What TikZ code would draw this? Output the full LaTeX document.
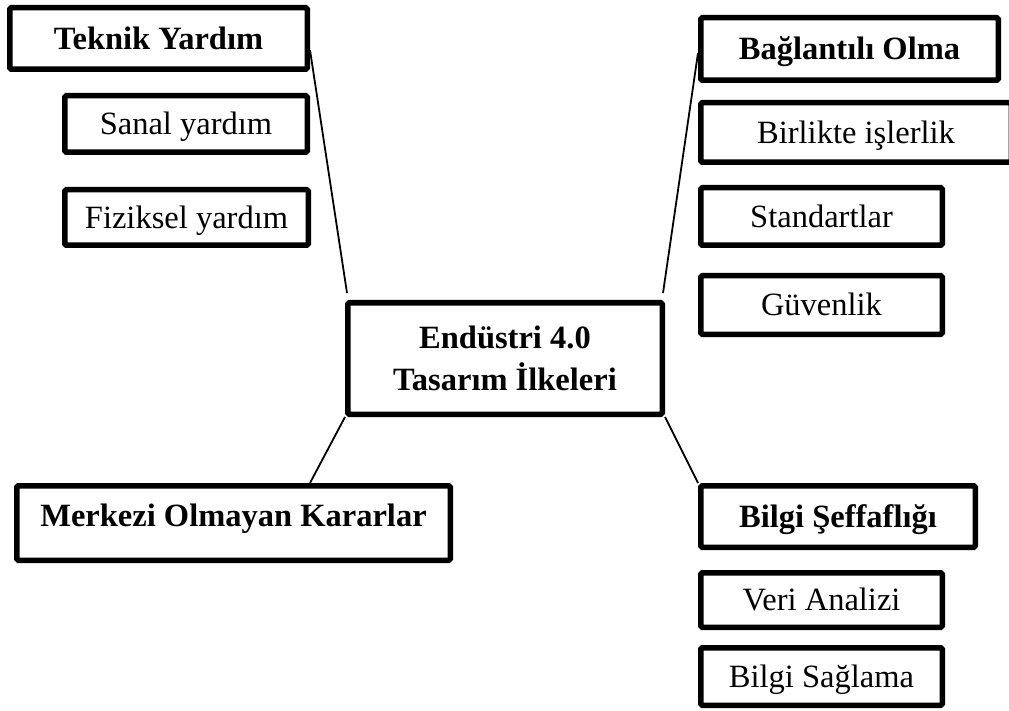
\documentclass[tikz,border=0pt]{standalone}
\usepackage{fontspec}
\setmainfont{Liberation Serif}
\usetikzlibrary{calc}
\tikzset{
  box/.style={draw, line width=5.5pt, rounded corners=1.5pt, inner sep=0pt,
    font=\fontsize{32.5}{41}\selectfont},
  one/.style={box, text height=21.5pt, text depth=0pt},
  head/.style={one, font=\fontsize{32.5}{41}\selectfont\bfseries},
  link/.style={draw, line width=1.8pt}
}
\begin{document}
\begin{tikzpicture}[x=1pt,y=-1pt]
\useasboundingbox (0,0) rectangle (1009,711);
% left top group
\node[head, minimum width=297.5pt, minimum height=61.5pt] (teknik) at (158.5,38.5) {Teknik Yardım};
\node[one, minimum width=242.5pt, minimum height=56.5pt] (sanal) at (186,124) {Sanal yardım};
\node[one, minimum width=243.5pt, minimum height=55.5pt] (fiziksel) at (186.5,217.5) {Fiziksel yardım};
% right top group
\node[head, minimum width=297.5pt, minimum height=62.5pt] (baglanti) at (849.5,49) {Bağlantılı Olma};
\node[one, minimum width=310.5pt, minimum height=59.5pt] (birlikte) at (856,132.5) {Birlikte işlerlik};
\node[one, minimum width=241.5pt, minimum height=57.5pt] (standart) at (821.5,216.5) {Standartlar};
\node[one, minimum width=241.5pt, minimum height=58.5pt] (guvenlik) at (821.5,305) {Güvenlik};
% centre
\node[box, font=\fontsize{32.5}{42}\selectfont\bfseries, align=center,
  minimum width=314.5pt, minimum height=111.5pt] (main) at (505,358.5) {Endüstri 4.0\\Tasarım İlkeleri};
% bottom left
\node[head, text depth=14pt, minimum width=433.5pt, minimum height=74.5pt] (merkezi) at (233.5,523) {Merkezi Olmayan Kararlar};
% bottom right
\node[head, minimum width=274.5pt, minimum height=61.5pt] (bilgi) at (838,516.5) {Bilgi Şeffaflığı};
\node[one, minimum width=241.5pt, minimum height=54.5pt] (veri) at (821.5,600) {Veri Analizi};
\node[one, minimum width=241.5pt, minimum height=57.5pt] (saglama) at (821.5,676.5) {Bilgi Sağlama};
% free ends near the centre box
\coordinate (t1) at (347,293);
\coordinate (t2) at (663,293);
% connectors
\draw[link] ($(teknik.east)+(0,11.5)$) -- (t1);
\draw[link] ($(baglanti.west)+(0,4)$) -- (t2);
\draw[link] (main.south west) -- ($(merkezi.north)+(76.5,0)$);
\draw[link] (main.south east) -- (bilgi.north west);
\end{tikzpicture}
\end{document}
